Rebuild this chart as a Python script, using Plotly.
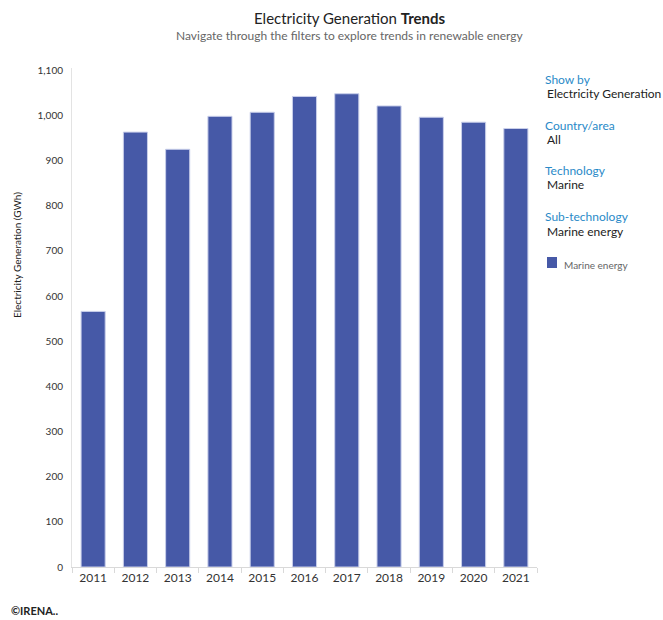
import plotly.graph_objects as go

# Annual marine energy electricity generation (GWh)
years = ["2011", "2012", "2013", "2014", "2015", "2016", "2017", "2018", "2019", "2020", "2021"]
generation_gwh = [566, 963, 925, 998, 1007, 1042, 1048, 1021, 996, 985, 971]
y_ticks = [0, 100, 200, 300, 400, 500, 600, 700, 800, 900, 1000, 1100]

# Filter panel shown beside the chart
filter_labels = ["Show by", "Country/area", "Technology", "Sub-technology"]
filter_values = ["Electricity Generation", "All", "Marine", "Marine energy"]
series_name = "Marine energy"

BAR_COLOR = "#4659A7"
FILTER_BLUE = "#2A8AC8"
FONT = "Lato, 'Open Sans', sans-serif"

fig = go.Figure(
    go.Bar(
        x=years,
        y=generation_gwh,
        name=series_name,
        marker=dict(color=BAR_COLOR, line=dict(color="#C9CFEA", width=1)),
        hovertemplate="%{x}: %{y:,} GWh<extra></extra>",
    )
)

fig.update_layout(
    width=663,
    height=620,
    margin=dict(l=72, r=126, t=68, b=53),
    paper_bgcolor="white",
    plot_bgcolor="white",
    bargap=0.43,
    showlegend=False,
    font=dict(family=FONT, color="#333333"),
)

fig.update_xaxes(
    type="category",
    showline=True,
    linecolor="#D9D9D9",
    linewidth=1,
    ticks="outside",
    tickson="boundaries",
    ticklen=5,
    tickcolor="#D9D9D9",
    tickfont=dict(size=12, color="#333333"),
    showgrid=False,
)

fig.update_yaxes(
    range=[0, 1105],
    tickvals=y_ticks,
    tickformat=",",
    showline=True,
    linecolor="#E3E3E3",
    linewidth=1,
    showgrid=False,
    zeroline=False,
    ticks="",
    ticklabelstandoff=6,
    tickfont=dict(size=10, color="#333333"),
)

annotations = [
    dict(
        text="Electricity Generation <b>Trends</b>",
        x=350, y=18, font=dict(size=15, color="#222222"),
    ),
    dict(
        text="Navigate through the filters to explore trends in renewable energy",
        x=350, y=35, font=dict(size=12, color="#666666"),
    ),
    dict(
        text="Electricity Generation (GWh)",
        x=17, y=255, textangle=-90, font=dict(size=10, color="#222222"),
    ),
]

# Filter panel: blue headings with their current selections beneath
label_y = [79, 125, 170, 217]
for label, value, ly in zip(filter_labels, filter_values, label_y):
    annotations.append(dict(text=label, x=543, y=ly, xanchor="left",
                            font=dict(size=12, color=FILTER_BLUE)))
    annotations.append(dict(text=value, x=545, y=ly + 14, xanchor="left",
                            font=dict(size=12, color="#222222")))

# Legend entry
annotations.append(dict(text=series_name, x=562, y=265, xanchor="left",
                        font=dict(size=10, color="#666666")))
annotations.append(dict(text="<b>©IRENA..</b>", x=9, y=610, xanchor="left",
                        font=dict(size=11, color="#222222")))

for a in annotations:
    a.setdefault("xanchor", "center")
    a.update(xref="paper", yref="paper", yanchor="middle", showarrow=False)
    # convert pixel positions to paper coordinates of the plotting area
    a["x"] = (a["x"] - 72) / (663 - 72 - 126)
    a["y"] = (620 - 53 - a["y"]) / (620 - 68 - 53)

fig.update_layout(annotations=annotations)

fig.add_shape(
    type="rect", xref="paper", yref="paper",
    x0=(547 - 72) / 465, x1=(557 - 72) / 465,
    y0=(567 - 268) / 499, y1=(567 - 257) / 499,
    fillcolor=BAR_COLOR, line=dict(width=0),
)

fig.write_html("out.html")
